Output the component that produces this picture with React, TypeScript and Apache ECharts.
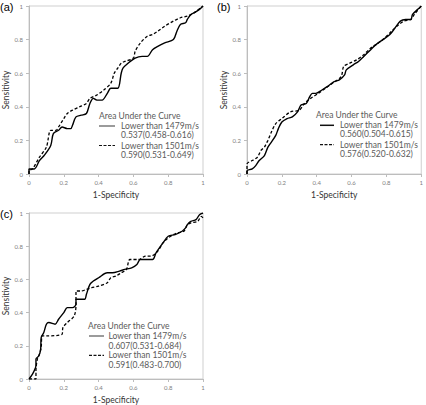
import React, { useEffect, useRef } from "react";
import * as echarts from "echarts";

// ---- Data ----
const panelLabels = ["(a)", "(b)", "(c)"];
const legendHeader = "Area Under the Curve";
const seriesNames = ["Lower than 1479m/s", "Lower than 1501m/s"];
const aucA = ["0.537(0.458-0.616)", "0.590(0.531-0.649)"];
const aucB = ["0.560(0.504-0.615)", "0.576(0.520-0.632)"];
const aucC = ["0.607(0.531-0.684)", "0.591(0.483-0.700)"];
const axisTicks = [0, 0.2, 0.4, 0.6, 0.8, 1];

const rocA1479: [number, number][] = [
  [0, 0], [0, 0.03], [0.03, 0.03], [0.06, 0.08], [0.087, 0.11], [0.125, 0.17], [0.14, 0.24],
  [0.17, 0.26], [0.19, 0.28], [0.22, 0.27], [0.24, 0.27], [0.25, 0.29], [0.27, 0.34], [0.3, 0.35],
  [0.33, 0.36], [0.35, 0.42], [0.37, 0.45], [0.39, 0.44], [0.42, 0.44], [0.45, 0.48], [0.47, 0.51],
  [0.51, 0.51], [0.53, 0.6], [0.54, 0.63], [0.57, 0.66], [0.61, 0.69], [0.65, 0.7], [0.68, 0.7],
  [0.71, 0.74], [0.74, 0.76], [0.78, 0.78], [0.83, 0.8], [0.85, 0.85], [0.87, 0.89], [0.9, 0.9],
  [0.91, 0.92], [0.93, 0.95], [0.95, 0.96], [0.98, 0.98], [1, 1],
];
const rocA1501: [number, number][] = [
  [0, 0], [0, 0.02], [0.02, 0.03], [0.06, 0.1], [0.1, 0.16], [0.125, 0.26], [0.155, 0.26],
  [0.17, 0.28], [0.2, 0.33], [0.22, 0.36], [0.25, 0.38], [0.29, 0.4], [0.33, 0.42], [0.35, 0.45],
  [0.39, 0.47], [0.43, 0.5], [0.47, 0.54], [0.49, 0.6], [0.51, 0.63], [0.53, 0.66], [0.55, 0.67],
  [0.6, 0.69], [0.61, 0.73], [0.64, 0.78], [0.68, 0.82], [0.71, 0.83], [0.74, 0.85], [0.78, 0.88],
  [0.83, 0.91], [0.87, 0.93], [0.91, 0.94], [0.95, 0.96], [1, 1],
];
const rocB1479: [number, number][] = [
  [0, 0], [0, 0.02], [0.03, 0.03], [0.05, 0.05], [0.07, 0.08], [0.1, 0.11], [0.12, 0.16],
  [0.14, 0.19], [0.165, 0.23], [0.18, 0.27], [0.2, 0.31], [0.23, 0.33], [0.26, 0.34], [0.29, 0.37],
  [0.31, 0.41], [0.34, 0.42], [0.36, 0.46], [0.375, 0.48], [0.395, 0.48], [0.43, 0.5], [0.46, 0.52],
  [0.5, 0.55], [0.53, 0.56], [0.56, 0.59], [0.57, 0.62], [0.61, 0.65], [0.64, 0.67], [0.67, 0.7],
  [0.71, 0.74], [0.74, 0.77], [0.78, 0.8], [0.82, 0.83], [0.85, 0.87], [0.88, 0.91], [0.91, 0.92],
  [0.94, 0.92], [0.95, 0.95], [0.98, 0.98], [1, 1],
];
const rocB1501: [number, number][] = [
  [0, 0], [0, 0.06], [0.03, 0.08], [0.06, 0.1], [0.08, 0.14], [0.1, 0.16], [0.12, 0.2],
  [0.14, 0.25], [0.165, 0.3], [0.2, 0.33], [0.25, 0.37], [0.3, 0.38], [0.33, 0.42], [0.365, 0.45],
  [0.41, 0.48], [0.45, 0.51], [0.49, 0.54], [0.54, 0.58], [0.555, 0.64], [0.59, 0.66], [0.63, 0.68],
  [0.67, 0.71], [0.71, 0.75], [0.74, 0.77], [0.78, 0.8], [0.82, 0.84], [0.86, 0.88], [0.9, 0.91],
  [0.94, 0.92], [0.96, 0.95], [1, 1],
];
const rocC1479: [number, number][] = [
  [0, 0], [0.02, 0.03], [0.03, 0.05], [0.04, 0.08], [0.04, 0.12], [0.057, 0.14], [0.067, 0.18],
  [0.07, 0.25], [0.085, 0.28], [0.1, 0.33], [0.114, 0.34], [0.15, 0.33], [0.17, 0.36], [0.2, 0.4],
  [0.22, 0.43], [0.25, 0.43], [0.27, 0.45], [0.27, 0.48], [0.32, 0.48], [0.33, 0.51], [0.35, 0.57],
  [0.37, 0.59], [0.4, 0.61], [0.45, 0.64], [0.48, 0.64], [0.52, 0.65], [0.55, 0.66], [0.59, 0.67],
  [0.62, 0.69], [0.64, 0.72], [0.71, 0.72], [0.73, 0.76], [0.77, 0.82], [0.8, 0.86], [0.84, 0.87],
  [0.88, 0.89], [0.9, 0.91], [0.91, 0.93], [0.93, 0.95], [0.96, 0.96], [0.98, 0.99], [1, 1],
];
const rocC1501: [number, number][] = [
  [0, 0], [0.04, 0], [0.04, 0.05], [0.048, 0.12], [0.06, 0.15], [0.07, 0.19], [0.076, 0.26],
  [0.1, 0.26], [0.19, 0.27], [0.195, 0.31], [0.22, 0.34], [0.26, 0.38], [0.27, 0.45], [0.27, 0.53],
  [0.3, 0.53], [0.33, 0.54], [0.36, 0.55], [0.4, 0.56], [0.45, 0.58], [0.47, 0.61], [0.5, 0.62],
  [0.53, 0.64], [0.56, 0.66], [0.58, 0.72], [0.63, 0.72], [0.67, 0.74], [0.7, 0.74], [0.74, 0.77],
  [0.77, 0.82], [0.8, 0.85], [0.85, 0.88], [0.89, 0.89], [0.91, 0.93], [0.93, 0.94], [0.97, 0.95],
  [0.99, 0.98], [1, 0.97],
];

const FONT = "Lato, 'Open Sans', sans-serif";

const grids = [
  { left: 28, top: 6, width: 175, height: 168 },
  { left: 247, top: 6, width: 175, height: 168 },
  { left: 28, top: 213, width: 175, height: 169 },
];

const legendPos = [
  { hx: 99, hy: 116, sx: 99, sw: 16, tx: 121, rows: [126, 134.5, 145.5, 155], solid: "#7a7a7a" },
  { hx: 316, hy: 115, sx: 320, sw: 14, tx: 340, rows: [125.3, 134, 144.7, 153.7], solid: "#111" },
  { hx: 88, hy: 326, sx: 89, sw: 15, tx: 108.5, rows: [336, 345.7, 355.3, 364.7], solid: "#7a7a7a" },
];
const labelPos = [
  { x: 0, y: 7 },
  { x: 217, y: 7 },
  { x: 0, y: 214 },
];

function buildLegend(i: number, auc: string[]) {
  const p = legendPos[i];
  const txt = (x: number, y: number, t: string) => ({
    type: "text",
    x,
    y,
    style: { text: t, font: `8.5px ${FONT}`, fill: "#5a5a5a", verticalAlign: "middle", align: "left" },
    silent: true,
  });
  return [
    txt(p.hx, p.hy, legendHeader),
    {
      type: "line",
      shape: { x1: p.sx, y1: p.rows[0], x2: p.sx + p.sw, y2: p.rows[0] },
      style: { stroke: p.solid, lineWidth: 1.5 },
    },
    txt(p.tx, p.rows[0], seriesNames[0]),
    txt(p.tx, p.rows[1], auc[0]),
    {
      type: "line",
      shape: { x1: p.sx, y1: p.rows[2], x2: p.sx + p.sw, y2: p.rows[2] },
      style: { stroke: "#111", lineWidth: 1.2, lineDash: [3, 1.5] },
    },
    txt(p.tx, p.rows[2], seriesNames[1]),
    txt(p.tx, p.rows[3], auc[1]),
    {
      type: "text",
      x: labelPos[i].x,
      y: labelPos[i].y,
      style: { text: panelLabels[i], font: "11px 'Liberation Sans', Arial, sans-serif", fill: "#000", verticalAlign: "middle" },
    },
  ];
}

export default function App() {
  const ref = useRef<HTMLDivElement>(null);
  useEffect(() => {
    if (!ref.current) return;
    const chart = echarts.init(ref.current, undefined, { renderer: "svg" });
    const axisCommon = {
      min: 0,
      max: 1,
      interval: 0.2,
      splitLine: { show: false },
      axisLine: { show: true, lineStyle: { color: "#bdbdbd", width: 1 } },
      axisTick: { show: true, length: 3, lineStyle: { color: "#bdbdbd" } },
      axisLabel: {
        color: "#808080",
        fontSize: 6,
        fontFamily: FONT,
        formatter: (v: number) => String(axisTicks.find((t) => Math.abs(t - v) < 1e-6) ?? v),
      },
      nameTextStyle: { color: "#333", fontSize: 8.5, fontFamily: FONT },
    };
    const xAxis = grids.map((_, i) => ({
      ...axisCommon,
      type: "value",
      gridIndex: i,
      name: "1-Specificity",
      nameLocation: "middle",
      nameGap: 16,
      axisLabel: { ...axisCommon.axisLabel, margin: 5 },
    }));
    const yAxis = grids.map((_, i) => ({
      ...axisCommon,
      type: "value",
      gridIndex: i,
      name: "Sensitivity",
      nameLocation: "middle",
      nameGap: 19,
      axisLabel: { ...axisCommon.axisLabel, margin: 6 },
    }));
    const solid = (data: [number, number][], i: number) => ({
      type: "line",
      name: seriesNames[0],
      xAxisIndex: i,
      yAxisIndex: i,
      data,
      smooth: 0.3,
      showSymbol: false,
      symbol: "none",
      lineStyle: { color: "#000", width: 1.4, type: "solid" },
    });
    const dashed = (data: [number, number][], i: number) => ({
      type: "line",
      name: seriesNames[1],
      xAxisIndex: i,
      yAxisIndex: i,
      data,
      smooth: 0.3,
      showSymbol: false,
      symbol: "none",
      lineStyle: { color: "#000", width: 1.3, type: [3, 2] },
    });
    chart.setOption({
      animation: false,
      grid: grids.map((g) => ({ ...g, show: true, borderColor: "#cfcfcf", borderWidth: 1, backgroundColor: "transparent" })),
      xAxis,
      yAxis,
      series: [
        solid(rocA1479, 0),
        dashed(rocA1501, 0),
        solid(rocB1479, 1),
        dashed(rocB1501, 1),
        solid(rocC1479, 2),
        dashed(rocC1501, 2),
      ],
      graphic: [...buildLegend(0, aucA), ...buildLegend(1, aucB), ...buildLegend(2, aucC)],
    });
    return () => chart.dispose();
  }, []);
  return (
    <div
      ref={ref}
      style={{ position: "fixed", left: 0, top: 0, width: 426, height: 405, background: "#fff" }}
    />
  );
}
